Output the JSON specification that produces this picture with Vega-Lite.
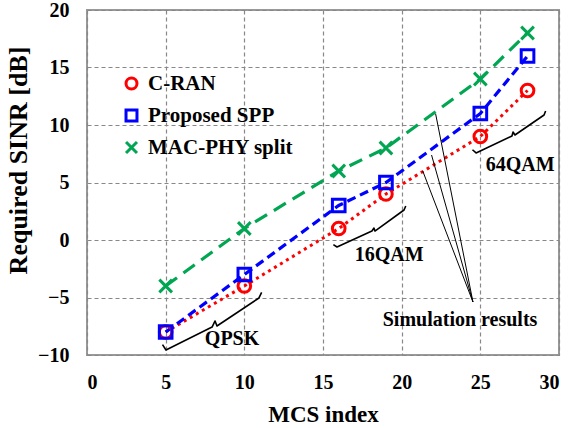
{
  "$schema": "https://vega.github.io/schema/vega-lite/v6.json",
  "width": 472,
  "height": 345,
  "autosize": "none",
  "padding": {"left": 87, "top": 10, "right": 10, "bottom": 73},
  "background": "white",
  "config": {
    "font": "Liberation Serif",
    "view": {"stroke": "#999999", "strokeWidth": 2},
    "axis": {
      "labelFont": "Liberation Serif",
      "labelFontWeight": "bold",
      "labelFontSize": 20,
      "labelColor": "black",
      "titleFont": "Liberation Serif",
      "titleFontWeight": "bold",
      "titleColor": "black",
      "ticks": false,
      "domain": false,
      "grid": true,
      "gridColor": "#888888",
      "gridDash": [4, 3],
      "gridWidth": 1.2,
      "gridOpacity": 1
    }
  },
  "datasets": {
    "series": [
      {"mcs": 5, "sinr": -8, "scheme": "C-RAN"},
      {"mcs": 10, "sinr": -4, "scheme": "C-RAN"},
      {"mcs": 16, "sinr": 1, "scheme": "C-RAN"},
      {"mcs": 19, "sinr": 4, "scheme": "C-RAN"},
      {"mcs": 25, "sinr": 9, "scheme": "C-RAN"},
      {"mcs": 28, "sinr": 13, "scheme": "C-RAN"},
      {"mcs": 5, "sinr": -8, "scheme": "Proposed SPP"},
      {"mcs": 10, "sinr": -3, "scheme": "Proposed SPP"},
      {"mcs": 16, "sinr": 3, "scheme": "Proposed SPP"},
      {"mcs": 19, "sinr": 5, "scheme": "Proposed SPP"},
      {"mcs": 25, "sinr": 11, "scheme": "Proposed SPP"},
      {"mcs": 28, "sinr": 16, "scheme": "Proposed SPP"},
      {"mcs": 5, "sinr": -4, "scheme": "MAC-PHY split"},
      {"mcs": 10, "sinr": 1, "scheme": "MAC-PHY split"},
      {"mcs": 16, "sinr": 6, "scheme": "MAC-PHY split"},
      {"mcs": 19, "sinr": 8, "scheme": "MAC-PHY split"},
      {"mcs": 25, "sinr": 14, "scheme": "MAC-PHY split"},
      {"mcs": 28, "sinr": 18, "scheme": "MAC-PHY split"}
    ],
    "braces": [
      {"b": "QPSK", "o": 1, "x": 4.8, "y": -9.1},
      {"b": "QPSK", "o": 2, "x": 5.02, "y": -9.57},
      {"b": "QPSK", "o": 3, "x": 7.95, "y": -7.57},
      {"b": "QPSK", "o": 4, "x": 8.14, "y": -7.04},
      {"b": "QPSK", "o": 5, "x": 8.26, "y": -7.48},
      {"b": "QPSK", "o": 6, "x": 10.93, "y": -5.04},
      {"b": "QPSK", "o": 7, "x": 11.1, "y": -4.55},
      {"b": "16QAM", "o": 1, "x": 15.66, "y": -0.4},
      {"b": "16QAM", "o": 2, "x": 15.89, "y": -0.61},
      {"b": "16QAM", "o": 3, "x": 18.11, "y": 0.78},
      {"b": "16QAM", "o": 4, "x": 18.24, "y": 1.04},
      {"b": "16QAM", "o": 5, "x": 18.3, "y": 0.78},
      {"b": "16QAM", "o": 6, "x": 20.15, "y": 2.61},
      {"b": "16QAM", "o": 7, "x": 20.26, "y": 2.96},
      {"b": "64QAM", "o": 1, "x": 24.5, "y": 7.85},
      {"b": "64QAM", "o": 2, "x": 24.73, "y": 7.57},
      {"b": "64QAM", "o": 3, "x": 27.01, "y": 9.04},
      {"b": "64QAM", "o": 4, "x": 27.08, "y": 9.39},
      {"b": "64QAM", "o": 5, "x": 27.2, "y": 9.13},
      {"b": "64QAM", "o": 6, "x": 29.05, "y": 10.87},
      {"b": "64QAM", "o": 7, "x": 29.15, "y": 11.22}
    ],
    "leaders": [
      {"x": 24.53, "y": -5.39, "x2": 22.16, "y2": 10.96},
      {"x": 24.53, "y": -5.39, "x2": 21.9, "y2": 7.39},
      {"x": 24.53, "y": -5.39, "x2": 21.34, "y2": 6.0}
    ],
    "labels": [
      {"x": 9.22, "y": -8.6, "t": "QPSK"},
      {"x": 19.2, "y": -1.3, "t": "16QAM"},
      {"x": 27.53, "y": 6.55, "t": "64QAM"},
      {"x": 23.71, "y": -6.95, "t": "Simulation results"}
    ]
  },
  "encoding": {
    "x": {"field": "mcs", "type": "quantitative", "scale": {"domain": [0, 30], "nice": false}, "axis": {"values": [0, 5, 10, 15, 20, 25, 30], "title": "MCS index", "titleFontSize": 23, "labelPadding": 17, "titleBaseline": "alphabetic", "titleY": 66}},
    "y": {"field": "sinr", "type": "quantitative", "scale": {"domain": [-10, 20], "nice": false}, "axis": {"values": [-10, -5, 0, 5, 10, 15, 20], "title": "Required SINR [dB]", "titleFontSize": 26, "labelPadding": 18, "titleX": -69, "titleY": 150, "titleBaseline": "middle"}}
  },
  "layer": [
    {
      "data": {"name": "series"},
      "transform": [{"filter": "datum.scheme === 'C-RAN'"}],
      "mark": {"type": "line", "strokeWidth": 3, "strokeCap": "butt", "color": "#ff0000", "strokeDash": [3, 4]},
      "encoding": {"order": {"field": "mcs"}}
    },
    {
      "data": {"name": "series"},
      "transform": [{"filter": "datum.scheme === 'Proposed SPP'"}],
      "mark": {"type": "line", "strokeWidth": 3.2, "strokeCap": "butt", "color": "#0000ff", "strokeDash": [9, 5]},
      "encoding": {"order": {"field": "mcs"}}
    },
    {
      "data": {"name": "series"},
      "transform": [{"filter": "datum.scheme === 'MAC-PHY split'"}],
      "mark": {"type": "line", "strokeWidth": 3.2, "strokeCap": "butt", "color": "#00a651", "strokeDash": [14, 8]},
      "encoding": {"order": {"field": "mcs"}}
    },
    {
      "data": {"name": "series"},
      "mark": {"type": "point", "filled": false, "strokeWidth": 3, "opacity": 1, "size": 160},
      "encoding": {
        "color": {"field": "scheme", "type": "nominal", "title": null, "scale": {"domain": ["C-RAN", "Proposed SPP", "MAC-PHY split"], "range": ["#ff0000", "#0000ff", "#00a651"]},
          "legend": {"orient": "none", "legendX": 34, "legendY": 63, "labelFont": "Liberation Serif", "labelFontWeight": "bold", "labelFontSize": 21, "labelColor": "black", "symbolSize": 120, "symbolStrokeWidth": 3, "rowPadding": 9, "labelOffset": 6, "padding": 0}},
        "shape": {"field": "scheme", "type": "nominal", "title": null, "scale": {"domain": ["C-RAN", "Proposed SPP", "MAC-PHY split"], "range": ["circle", "square", "M-1,-1L1,1M-1,1L1,-1"]},
          "legend": {"orient": "none", "legendX": 34, "legendY": 63, "labelFont": "Liberation Serif", "labelFontWeight": "bold", "labelFontSize": 21, "labelColor": "black", "symbolSize": 120, "symbolStrokeWidth": 3, "rowPadding": 9, "labelOffset": 6, "padding": 0}}
      }
    },
    {
      "data": {"name": "braces"},
      "mark": {"type": "line", "color": "black", "strokeWidth": 1.6, "strokeJoin": "round"},
      "encoding": {
        "x": {"field": "x", "type": "quantitative"},
        "y": {"field": "y", "type": "quantitative"},
        "detail": {"field": "b"},
        "order": {"field": "o"}
      }
    },
    {
      "data": {"name": "leaders"},
      "mark": {"type": "rule", "color": "black", "strokeWidth": 1},
      "encoding": {
        "x": {"field": "x", "type": "quantitative"},
        "y": {"field": "y", "type": "quantitative"},
        "x2": {"field": "x2"},
        "y2": {"field": "y2"}
      }
    },
    {
      "data": {"name": "labels"},
      "mark": {"type": "text", "font": "Liberation Serif", "fontWeight": "bold", "fontSize": 20, "color": "black", "baseline": "middle", "align": "center"},
      "encoding": {
        "x": {"field": "x", "type": "quantitative"},
        "y": {"field": "y", "type": "quantitative"},
        "text": {"field": "t"}
      }
    }
  ]
}
